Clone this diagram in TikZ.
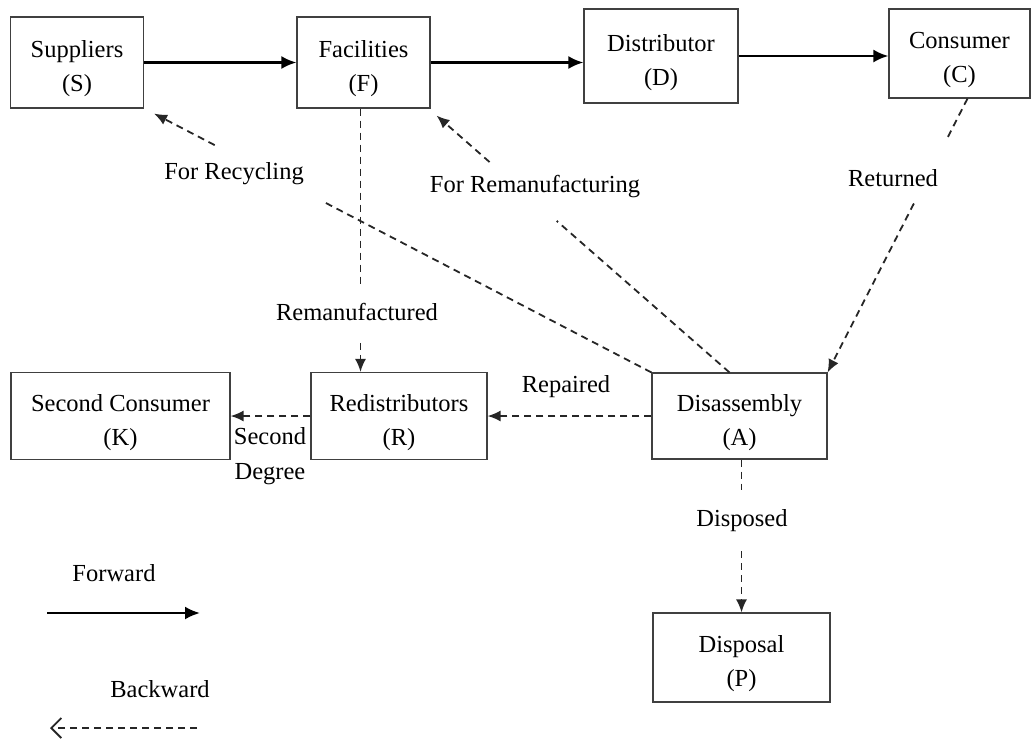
\documentclass[tikz,border=0pt]{standalone}
\usepackage{fontspec}
\setmainfont{Liberation Serif}
\usetikzlibrary{arrows.meta,calc}
\newcommand{\topstrut}{\rule{0pt}{30pt}}
\begin{document}
\begin{tikzpicture}[x=1pt,y=-1pt,
  every node/.style={font=\fontsize{24.5}{34}\selectfont, align=center, inner sep=1pt},
  box/.style={draw=black!75, line width=1.1pt},
  fwd/.style={line width=2.6pt, -{Latex[length=15pt,width=13pt]}},
  back/.style={line width=1.8pt, draw=black!85, dash pattern=on 7pt off 5pt},
  backarr/.style={back, -{Latex[length=13pt,width=11pt]}}
]
\useasboundingbox (0,0) rectangle (1036,740);

% boxes
\node[box, minimum width=133pt, minimum height=91pt] (S) at (77,62.5) {\topstrut Suppliers\\(S)};
\node[box, minimum width=133pt, minimum height=91pt] (F) at (363.5,62.5) {\topstrut Facilities\\(F)};
\node[box, minimum width=154pt, minimum height=94pt] (D) at (661,56) {\topstrut Distributor\\(D)};
\node[box, minimum width=141pt, minimum height=89pt] (C) at (959.5,53.5) {\topstrut Consumer\\(C)};
\node[box, minimum width=219pt, minimum height=87pt] (K) at (120.5,416) {\topstrut Second Consumer\\(K)};
\node[box, minimum width=176pt, minimum height=87pt] (R) at (399,416) {\topstrut Redistributors\\(R)};
\node[box, minimum width=175pt, minimum height=86pt] (A) at (739.5,416) {\topstrut Disassembly\\(A)};
\node[box, minimum width=177pt, minimum height=89pt] (P) at (741.5,657.5) {\topstrut Disposal\\(P)};

% forward arrows
\draw[fwd] (S.east) -- (S.east -| F.west);
\draw[fwd] (F.east) -- (F.east -| D.west);
\draw[fwd] (D.east) -- (D.east -| C.west);

% returned
\coordinate (cs) at ([xshift=8pt]C.south);
\path (cs) -- coordinate[pos=0.153] (ret1) coordinate[pos=0.383] (ret2) (A.north east);
\draw[back] (cs) -- (ret1);
\draw[backarr] (ret2) -- (A.north east);
\node (lret) at (893,178) {Returned};

% for recycling
\coordinate (st) at ([shift={(10,5)}]S.south east);
\path (A.north west) -- coordinate[pos=0.656] (rc1) coordinate[pos=0.878] (rc2) (st);
\draw[back] (A.north west) -- (rc1);
\draw[backarr] (rc2) -- (st);
\node (lrec) at (234,174) {For Recycling};

% for remanufacturing
\coordinate (an) at ([xshift=-10pt]A.north);
\coordinate (ft) at ([shift={(6,7)}]F.south east);
\path (an) -- coordinate[pos=0.59] (rm1) coordinate[pos=0.819] (rm2) (ft);
\draw[back] (an) -- (rm1);
\draw[backarr] (rm2) -- (ft);
\node (lrem) at (535,187) {For Remanufacturing};

% remanufactured
\coordinate (fs) at ([xshift=-3pt]F.south);
\coordinate (rt) at (fs |- R.north);
\path (fs) -- coordinate[pos=0.672] (rd1) coordinate[pos=0.89] (rd2) (rt);
\draw[back] (fs) -- (rd1);
\draw[backarr] (rd2) -- (rt);
\node (lrd) at (357,312) {Remanufactured};

% repaired
\draw[backarr] (A.west) -- (R.west -| R.east);
\node (lrep) at (566,387) {Repaired};

% second degree
\draw[backarr] (R.west) -- (R.west -| K.east);
\node[font=\fontsize{24.5}{35}\selectfont] (lsd) at (270,456) {Second\\Degree};

% disposed
\coordinate (as) at ([xshift=2pt]A.south);
\coordinate (pt) at (as |- P.north);
\path (as) -- coordinate[pos=0.2] (dp1) coordinate[pos=0.6] (dp2) (pt);
\draw[back] (as) -- (dp1);
\draw[backarr] (dp2) -- (pt);
\node (ldp) at (742,521) {Disposed};

% legend
\node (lfw) at (114,573) {Forward};
\coordinate (f1) at (47,613);
\coordinate (f2) at (200,613);
\draw[line width=2.4pt, -{Latex[length=15pt,width=13pt]}] (f1) -- (f2);
\node (lbw) at (160,689) {Backward};
\coordinate (b1) at (197,728);
\coordinate (b2) at (50,728);
\draw[back, -{Straight Barb[length=10pt,width=20pt,line width=1.8pt]}] (b1) -- (b2);
\end{tikzpicture}
\end{document}
